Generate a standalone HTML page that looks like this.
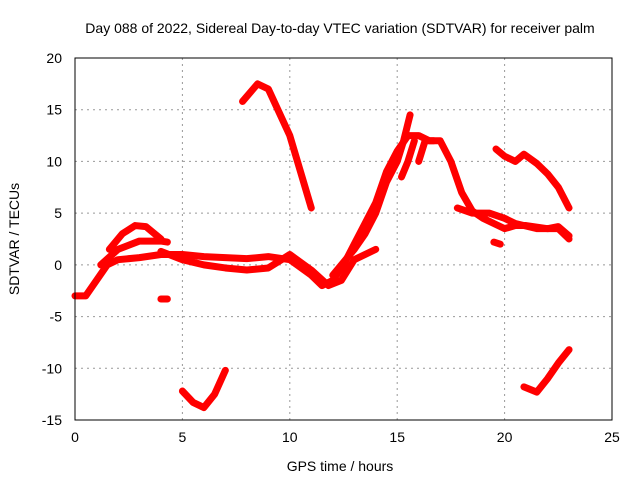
<!DOCTYPE html>
<html><head><meta charset="utf-8"><style>
body{margin:0;background:#fff;}
svg text{font-family:"Liberation Sans",sans-serif;font-size:14px;fill:#000;}
</style></head><body>
<svg id="c" width="640" height="480">
<text x="340" y="33" text-anchor="middle">Day 088 of 2022, Sidereal Day-to-day VTEC variation (SDTVAR) for receiver palm</text>
<g id="grid"></g>
<g id="series"></g>
<rect x="75" y="58" width="537" height="362" fill="none" stroke="#000" stroke-width="1"/>
<g id="ticks"></g>
<text x="340" y="471" text-anchor="middle">GPS time / hours</text>
<text transform="translate(19,239) rotate(-90)" text-anchor="middle">SDTVAR / TECUs</text>
</svg>
<script>
const xTicks=[0,5,10,15,20,25];
const yTicks=[20,15,10,5,0,-5,-10,-15];
const trackLowT=[0,0.5,1,1.5,2,3,4,5,6,7,8,9,10,11,11.5,12,12.5,13,13.5,14,14.5,15,15.5];
const trackLowV=[-3,-3,-1.5,0,0.5,0.7,1,1,0.8,0.7,0.6,0.8,0.5,-1,-2,-1.5,0,2,4,6,9,11,12.5];
const trackMidT=[1.2,2,3,4,4.3];
const trackMidV=[0,1.5,2.3,2.3,2.2];
const trackUpT=[1.6,2.2,2.8,3.3,4.0];
const trackUpV=[1.5,3,3.8,3.7,2.5];
const trackBandT=[4,5,6,7,8,9,10,11,11.8,12.4,13,14];
const trackBandV=[1.3,0.5,0,-0.3,-0.5,-0.3,1,-0.5,-2,-1.5,0.5,1.5];
const trackPeakT=[7.8,8.5,9,10,11];
const trackPeakV=[15.8,17.5,17,12.5,5.5];
const trackBotLT=[5,5.5,6,6.5,7];
const trackBotLV=[-12.2,-13.3,-13.8,-12.5,-10.2];
const trackBotRT=[20.9,21.5,22,22.5,23];
const trackBotRV=[-11.8,-12.3,-11,-9.5,-8.2];
const trackUpRT=[19.6,20,20.5,20.9,21.5,22,22.5,23];
const trackUpRV=[11.2,10.5,10,10.7,9.8,8.8,7.5,5.5];
const trackPostT=[15.5,16,16.5,17,17.5,18,18.5,19,19.5,20,20.5,21,22,22.5,23];
const trackPostV=[12.5,12.5,12,12,10,7,5.2,4.5,4,3.5,3.8,3.8,3.5,3.7,2.8];
const trackPost2T=[17.8,18.5,19.3,20,20.5,21.5,22.5,23];
const trackPost2V=[5.5,5,5,4.5,4,3.5,3.5,2.5];
const trackRiseT=[12,13,13.5,14,14.5,15,15.3,15.6];
const trackRiseV=[-1,1.5,3,5,8,10,12,14.5];
const trackBranchT=[15.2,15.5,15.8];
const trackBranchV=[8.5,10,12];
const trackSpikeT=[16,16.3,16.7];
const trackSpikeV=[10,12,12];
const trackBlobT=[4.0,4.3];
const trackBlobV=[-3.3,-3.3];
const trackBlob2T=[19.5,19.8];
const trackBlob2V=[2.2,2.0];
const tracks=[[trackLowT,trackLowV],[trackMidT,trackMidV],[trackUpT,trackUpV],[trackBandT,trackBandV],[trackPeakT,trackPeakV],[trackBotLT,trackBotLV],[trackBotRT,trackBotRV],[trackUpRT,trackUpRV],[trackPostT,trackPostV],[trackPost2T,trackPost2V],[trackRiseT,trackRiseV],[trackBranchT,trackBranchV],[trackSpikeT,trackSpikeV],[trackBlobT,trackBlobV],[trackBlob2T,trackBlob2V]];
const X=t=>75+t*537/25;
const Y=v=>58+(20-v)*362/35;
const NS='http://www.w3.org/2000/svg';
const grid=document.getElementById('grid'),ticks=document.getElementById('ticks'),ser=document.getElementById('series');
function mk(tag,attrs,parent){const e=document.createElementNS(NS,tag);for(const k in attrs)e.setAttribute(k,attrs[k]);parent.appendChild(e);return e;}
xTicks.forEach(t=>{
  if(t>0&&t<25){const g=mk('line',{x1:X(t),x2:X(t),y1:58,y2:420,stroke:'#999','stroke-dasharray':'2,4'},grid);
  
  }
  const l=mk('text',{x:X(t),y:442,'text-anchor':'middle'},ticks);l.textContent=t;
  
  
});
yTicks.forEach(v=>{
  if(v<20&&v>-15){const g=mk('line',{x1:75,x2:612,y1:Y(v),y2:Y(v),stroke:'#999','stroke-dasharray':'2,4'},grid);
  
  }
  const l=mk('text',{x:62,y:Y(v)+5,'text-anchor':'end'},ticks);l.textContent=v;
  
  
});
tracks.forEach(([T,V])=>{
  const pts=T.map((t,i)=>X(t)+','+Y(V[i])).join(' ');
  const p=mk('polyline',{points:pts,fill:'none',stroke:'#f00','stroke-width':7,'stroke-linejoin':'round','stroke-linecap':'round'},ser);
  
  
});
</script>
</body></html>
